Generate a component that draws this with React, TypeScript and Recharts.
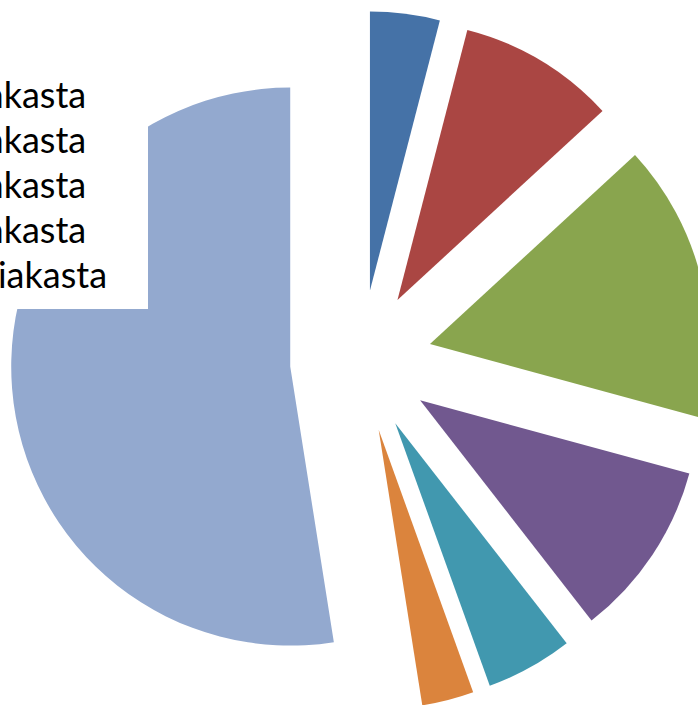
import React from 'react';
import { PieChart, Pie, Cell, Sector } from 'recharts';

const categories = ['A', 'B', 'C', 'D', 'E', 'F', 'G'];
const shares = [4.03, 9.11, 16.08, 10.25, 5.03, 3.0, 52.5];
const colors = ['#4572A7', '#AA4643', '#89A54E', '#71588F', '#4198AF', '#DB843D', '#93A9CF'];
const legendLabels = ['11–20 asiakasta', '21–30 asiakasta', '31–40 asiakasta', '41–50 asiakasta', '51–100 asiakasta'];

const data = categories.map((name, i) => ({ name, value: shares[i] }));

const EXPLODE = 71;
const RAD = Math.PI / 180;

const ExplodedSector = (props: any) => {
  const { cx, cy, midAngle, outerRadius, startAngle, endAngle, fill } = props;
  const dx = EXPLODE * Math.cos(midAngle * RAD);
  const dy = -EXPLODE * Math.sin(midAngle * RAD);
  return (
    <Sector
      cx={cx + dx}
      cy={cy + dy}
      innerRadius={0}
      outerRadius={outerRadius}
      startAngle={startAngle}
      endAngle={endAngle}
      fill={fill}
      stroke="none"
    />
  );
};

export default function App() {
  return (
    <div style={{ position: 'fixed', left: 0, top: 0, width: 698, height: 705, background: '#fff', overflow: 'hidden' }}>
      <PieChart width={698} height={705} margin={{ top: 0, right: 0, bottom: 0, left: 0 }}>
        <Pie
          data={data}
          dataKey="value"
          nameKey="name"
          cx={361}
          cy={361}
          innerRadius={0}
          outerRadius={279}
          startAngle={90}
          endAngle={-270}
          stroke="none"
          shape={ExplodedSector}
          isAnimationActive={false}
        >
          {data.map((d, i) => (
            <Cell key={d.name} fill={colors[i]} />
          ))}
        </Pie>
      </PieChart>
      <div
        style={{
          position: 'absolute',
          left: -181,
          top: 40,
          width: 329,
          height: 269,
          background: '#fff',
          paddingTop: 32,
          boxSizing: 'border-box',
          fontFamily: 'Lato, sans-serif',
          fontSize: 36,
          lineHeight: '45px',
          color: '#000',
        }}
      >
        {legendLabels.map((l) => (
          <div key={l} style={{ paddingLeft: 11, whiteSpace: 'nowrap' }}>{l}</div>
        ))}
      </div>
    </div>
  );
}
